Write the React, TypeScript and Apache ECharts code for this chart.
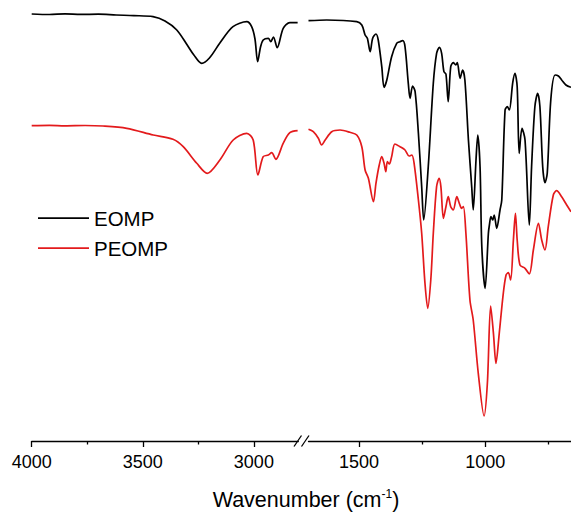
import React, { useEffect, useRef } from "react";
import * as echarts from "echarts";

// wavenumber (cm-1), relative transmittance (a.u.)
const eompLeft: [number, number][] = [
  [4000, 427], [3920, 426.5], [3850, 427.2], [3780, 426.6], [3700, 426.8], [3620, 426], [3540, 425.4],
  [3454, 424.3], [3400, 420], [3347, 411], [3300, 396], [3270, 386], [3235, 377.7], [3200, 383],
  [3153, 398], [3094, 414.3], [3032, 419.3], [3010, 414.3], [2995, 402], [2983, 379.3], [2970, 394],
  [2958, 401], [2935, 402.7], [2924, 399.3], [2912, 404], [2895, 393.3], [2868, 412.7], [2838, 418.3],
  [2803, 418.3],
];
const peompLeft: [number, number][] = [
  [4000, 315.3], [3920, 315.6], [3850, 315.2], [3760, 315.5], [3679, 315], [3572, 312.7], [3453, 306],
  [3364, 301.7], [3318, 294.3], [3257, 277.7], [3210, 267.7], [3153, 281], [3093, 301], [3032, 307.7],
  [3003, 301], [2982, 266], [2958, 284.3], [2935, 286], [2920, 288.3], [2901, 281.7], [2868, 297.7],
  [2838, 308.3], [2803, 310.3],
];
const eompRight: [number, number][] = [
  [1700, 420.3], [1628, 421], [1509, 419.3], [1489, 416], [1476, 406], [1467, 402.7], [1456, 389.3],
  [1446, 402.7], [1433, 407], [1424, 401], [1410, 374.3], [1401, 353.7], [1390, 361], [1371, 384.3],
  [1351, 397.7], [1338, 399.3], [1327, 400.3], [1318, 394.3], [1305, 357.7], [1298, 342.7], [1288, 355],
  [1278, 349.3], [1265, 307.7], [1252, 254.3], [1244, 221], [1226, 274.3], [1206, 357.7], [1193, 387.7],
  [1182, 393.7], [1173, 387.7], [1164, 369.3], [1156, 367], [1147, 339.3], [1137, 374.3], [1127, 378.3],
  [1117, 376], [1111, 378.3], [1100, 362.7], [1090, 371], [1081, 361], [1067, 301], [1054, 254.3],
  [1048, 231], [1037, 281], [1030, 306], [1021, 274.3], [1014, 194.3], [1001, 152.7], [988, 207.7],
  [984, 216], [978, 224.3], [971, 221], [965, 226], [955, 212.7], [942, 231], [935, 241], [922, 331],
  [913, 334.3], [905, 331], [892, 357.7], [883, 367.7], [874, 354.3], [866, 287.7], [855, 312.7],
  [843, 301], [826, 216], [817, 274.3], [804, 334.3], [793, 347.7], [784, 334.3], [773, 274.3],
  [764, 258.3], [755, 267.7], [741, 341], [724, 366], [711, 365], [698, 361], [681, 356], [661, 353.7],
];
const peompRight: [number, number][] = [
  [1700, 311.7], [1681, 309.3], [1661, 302.7], [1648, 296], [1634, 301], [1608, 309.3], [1575, 311],
  [1536, 308.7], [1509, 306], [1489, 294.3], [1476, 271], [1463, 262.7], [1443, 239.3], [1433, 257.7],
  [1420, 276], [1410, 284.3], [1401, 277.7], [1394, 269.3], [1388, 279.3], [1380, 277], [1371, 284.3],
  [1358, 297], [1338, 294.3], [1318, 291], [1302, 285], [1291, 286], [1282, 277.7], [1265, 241],
  [1252, 207.7], [1239, 157.7], [1228, 132.7], [1216, 161], [1206, 207.7], [1193, 254.3], [1183, 262.7],
  [1176, 254.3], [1166, 222.7], [1156, 234.3], [1147, 244.3], [1137, 234.3], [1127, 231], [1113, 244.3],
  [1103, 237.7], [1094, 232.7], [1087, 234.3], [1077, 207.7], [1061, 141], [1048, 121], [1028, 67.7],
  [1005, 25], [992, 57.7], [979, 135], [968, 107.7], [958, 77.7], [945, 107.7], [929, 147.7], [918, 166],
  [909, 168.3], [900, 161], [889, 201], [881, 227.7], [874, 201], [863, 176], [843, 172.7], [826, 167],
  [810, 191], [790, 217.7], [777, 201], [764, 191], [751, 214.3], [731, 246], [718, 250.3], [698, 244.3],
  [678, 236], [661, 229.3],
];

const leftMajor = [4000, 3500, 3000];
const leftMinor = [3750, 3250];
const rightMajor = [1500, 1000];
const rightMinor = [1250, 750];

const FONT = "'Liberation Sans', Arial, Helvetica, sans-serif";
const RED = "#e31a1c";

export default function App() {
  const ref = useRef<HTMLDivElement>(null);
  useEffect(() => {
    document.body.style.margin = "0";
    const chart = echarts.init(ref.current!, null, { renderer: "svg" });
    const axisBase = (gridIndex: number, min: number, max: number) => ({
      type: "value",
      gridIndex,
      min,
      max,
      inverse: true,
      position: "bottom",
      splitLine: { show: false },
    });
    const lineStyleAxis = { color: "#000", width: 1.3 };
    const labelStyle = {
      show: true,
      margin: 12,
      fontSize: 18,
      color: "#000",
      fontFamily: FONT,
      formatter: (v: number) => String(v),
    };
    const lineSeries = (name: string, xi: number, yi: number, data: [number, number][], color: string) => ({
      name,
      type: "line",
      xAxisIndex: xi,
      yAxisIndex: yi,
      data,
      symbol: "none",
      smooth: 0.3,
      lineStyle: { color, width: 1.7 },
      itemStyle: { color },
    });
    chart.setOption({
      animation: false,
      grid: [
        { left: 31.7, width: 266.6, top: 0, bottom: 71 },
        { left: 308.5, right: 0, top: 0, bottom: 71 },
      ],
      legend: {
        data: ["EOMP", "PEOMP"],
        orient: "vertical",
        left: 38,
        top: 207.7,
        padding: 0,
        icon: "rect",
        itemWidth: 51,
        itemHeight: 1.8,
        itemGap: 9,
        textStyle: { fontSize: 20.5, lineHeight: 20, color: "#000", fontFamily: FONT },
      },
      xAxis: [
        {
          ...axisBase(0, 2800, 4000),
          axisLine: { show: true, lineStyle: lineStyleAxis },
          axisTick: { show: true, length: 6, customValues: leftMajor, lineStyle: lineStyleAxis },
          axisLabel: { ...labelStyle, customValues: leftMajor },
        },
        {
          ...axisBase(0, 2800, 4000),
          axisLine: { show: false },
          axisTick: { show: true, length: 3.5, customValues: leftMinor, lineStyle: lineStyleAxis },
          axisLabel: { show: false },
        },
        {
          ...axisBase(1, 661, 1700),
          axisLine: { show: true, lineStyle: lineStyleAxis },
          axisTick: { show: true, length: 6, customValues: rightMajor, lineStyle: lineStyleAxis },
          axisLabel: { ...labelStyle, customValues: rightMajor },
        },
        {
          ...axisBase(1, 661, 1700),
          axisLine: { show: false },
          axisTick: { show: true, length: 3.5, customValues: rightMinor, lineStyle: lineStyleAxis },
          axisLabel: { show: false },
        },
      ],
      yAxis: [
        { type: "value", gridIndex: 0, min: 0, max: 441, show: false },
        { type: "value", gridIndex: 1, min: 0, max: 441, show: false },
      ],
      series: [
        lineSeries("EOMP", 0, 0, eompLeft, "#000"),
        lineSeries("EOMP", 2, 1, eompRight, "#000"),
        lineSeries("PEOMP", 0, 0, peompLeft, RED),
        lineSeries("PEOMP", 2, 1, peompRight, RED),
      ],
      graphic: [
        { type: "line", shape: { x1: 294, y1: 446.5, x2: 301.5, y2: 435.5 }, style: { stroke: "#000", lineWidth: 1.3 } },
        { type: "line", shape: { x1: 301.5, y1: 446.5, x2: 309, y2: 435.5 }, style: { stroke: "#000", lineWidth: 1.3 } },
        {
          type: "text",
          x: 306,
          y: 499.5,
          style: {
            text: "{a|Wavenumber (cm}{s|-1}{a|)}",
            align: "center",
            verticalAlign: "middle",
            fill: "#000",
            rich: {
              a: { fontSize: 21.5, fontFamily: FONT, fill: "#000", lineHeight: 24 },
              s: { fontSize: 12, fontFamily: FONT, fill: "#000", verticalAlign: "top", lineHeight: 12 },
            },
          },
        },
      ],
    });
    return () => chart.dispose();
  }, []);
  return <div ref={ref} style={{ width: 571, height: 512 }} />;
}
